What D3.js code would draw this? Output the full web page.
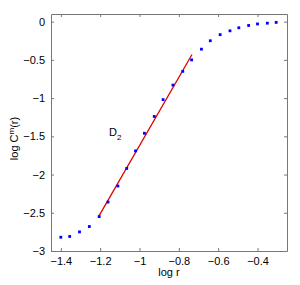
<!DOCTYPE html>
<html lang="en">
<head>
  <meta charset="UTF-8" />
  <title>Correlation sum</title>
  <style>
    html, body { margin: 0; background: #fff; }
    body { font-family: Arial, "Liberation Sans", sans-serif; }
    .axis text { font-size: 11px; fill: #000; font-family: Arial, "Liberation Sans", sans-serif; }
    .axis path, .axis line { stroke: #777; }
  </style>
</head>
<body>
  <svg id="chart" width="300" height="285"></svg>
  <script src="https://cdn.jsdelivr.net/npm/d3@7"></script>
  <script>
    // values
    const logR = [-1.40, -1.355, -1.305, -1.255, -1.205, -1.16, -1.11, -1.065, -1.02, -0.975,
                  -0.925, -0.88, -0.83, -0.78, -0.735, -0.685, -0.64, -0.59, -0.54, -0.495,
                  -0.445, -0.40, -0.35, -0.305];
    const logC = [-2.82, -2.81, -2.75, -2.68, -2.55, -2.36, -2.15, -1.92, -1.69, -1.46,
                  -1.24, -1.02, -0.83, -0.65, -0.50, -0.36, -0.25, -0.17, -0.12, -0.08,
                  -0.05, -0.03, -0.02, -0.01];
    const fitX = [-1.208, -0.733];
    const fitY = [-2.55, -0.43];
    const xTicks = [-1.4, -1.2, -1, -0.8, -0.6, -0.4];
    const yTicks = [0, -0.5, -1, -1.5, -2, -2.5, -3];

    const svg = d3.select("#chart"),
          margin = {top:14, right:13, bottom:34, left:51},
          width = +svg.attr("width") - margin.left - margin.right,
          height = +svg.attr("height") - margin.top - margin.bottom;

    const g = svg.append("g")
      .attr("transform", `translate(${margin.left},${margin.top})`);

    const x = d3.scaleLinear().domain([-1.45, -0.25]).range([0, width]);
    const y = d3.scaleLinear().domain([-3, 0.1]).range([height, 0]);

    const fmt = d => (d < 0 ? "\u2212" : "") + Math.abs(d);

    // axes with inward ticks, mirrored on top/right
    g.append("g").attr("class","axis")
      .attr("transform", `translate(0,${height})`)
      .call(d3.axisBottom(x).tickValues(xTicks).tickFormat(fmt).tickSizeInner(-3).tickSizeOuter(0).tickPadding(6));
    g.append("g").attr("class","axis")
      .call(d3.axisTop(x).tickValues(xTicks).tickFormat("").tickSizeInner(-3).tickSizeOuter(0));
    g.append("g").attr("class","axis")
      .call(d3.axisLeft(y).tickValues(yTicks).tickFormat(fmt).tickSizeInner(-3).tickSizeOuter(0).tickPadding(6));
    g.append("g").attr("class","axis")
      .attr("transform", `translate(${width},0)`)
      .call(d3.axisRight(y).tickValues(yTicks).tickFormat("").tickSizeInner(-3).tickSizeOuter(0));

    // fit line
    g.append("line")
      .attr("x1", x(fitX[0])).attr("y1", y(fitY[0]))
      .attr("x2", x(fitX[1])).attr("y2", y(fitY[1]))
      .attr("stroke", "#e00000").attr("stroke-width", 1.3);

    // data points
    g.selectAll("rect.pt")
      .data(logR.map((v, i) => [v, logC[i]]))
      .enter().append("rect")
        .attr("class","pt")
        .attr("x", d => x(d[0]) - 1.4)
        .attr("y", d => y(d[1]) - 1.4)
        .attr("width", 2.8).attr("height", 2.8)
        .attr("fill", "#0000ff");

    // D2 label
    const lab = g.append("text")
      .attr("x", x(-1.155)).attr("y", y(-1.49))
      .style("font-size", "11px");
    lab.append("tspan").text("D");
    lab.append("tspan").attr("dy", 4).style("font-size", "8px").text("2");

    // axis labels
    svg.append("text")
      .attr("x", margin.left + width / 2).attr("y", 276)
      .attr("text-anchor", "middle").style("font-size", "11px")
      .text("log r");

    const yl = svg.append("text")
      .attr("transform", `translate(18,${margin.top + height / 2 + 6}) rotate(-90)`)
      .attr("text-anchor", "middle").style("font-size", "11px");
    yl.append("tspan").text("log C");
    yl.append("tspan").attr("dy", -4).style("font-size", "8px").text("m");
    yl.append("tspan").attr("dy", 4).text("(r)");
  </script>
</body>
</html>
